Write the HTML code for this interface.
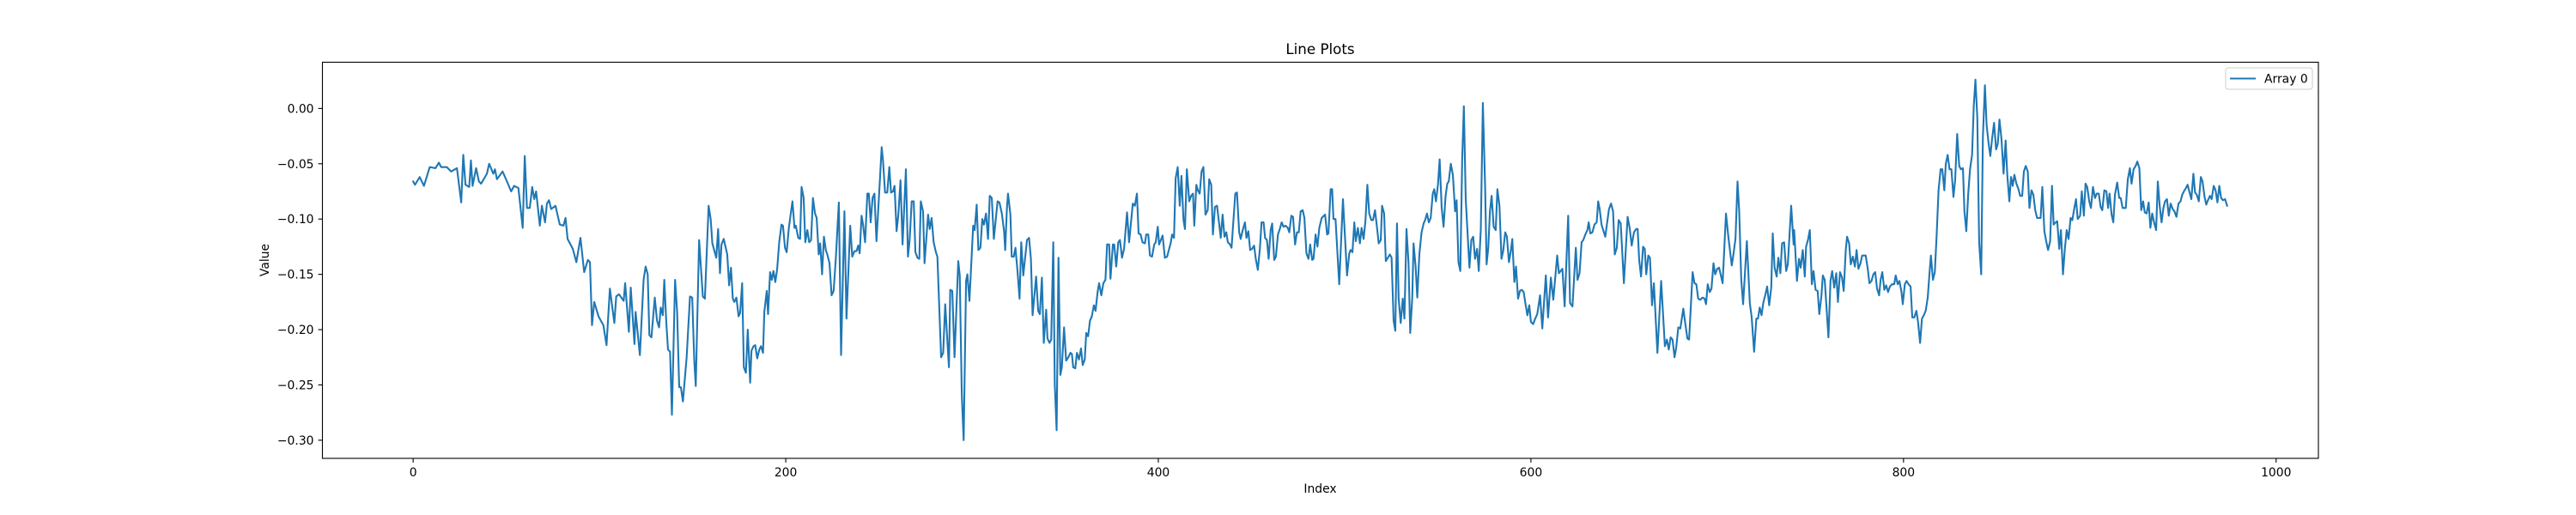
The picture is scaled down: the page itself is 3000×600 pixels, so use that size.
<!DOCTYPE html>
<html><head><meta charset="utf-8"><style>
html,body{margin:0;padding:0;background:#fff;}
svg{display:block;font-family:"DejaVu Sans","Liberation Sans",sans-serif;}
</style></head><body>
<svg id="chart" width="3000" height="600" viewBox="0 0 3000 600" xmlns="http://www.w3.org/2000/svg">
<rect x="0" y="0" width="3000" height="600" fill="#fff"/>
<text x="1537.5" y="63" font-size="16.7" text-anchor="middle" fill="#000">Line Plots</text>
<g id="ticks"></g>
<path id="series" fill="none" stroke="#1f77b4" stroke-width="2.1" stroke-linejoin="round" stroke-linecap="square"/>
<rect x="375.5" y="72.5" width="2324.5" height="461.5" fill="none" stroke="#000" stroke-width="1.1"/>
<text x="1537.5" y="574" font-size="13.9" text-anchor="middle" fill="#000">Index</text>
<text transform="translate(313,303) rotate(-90)" font-size="13.9" text-anchor="middle" fill="#000">Value</text>
<g>
<rect x="2592" y="79" width="101" height="25" rx="3" fill="#fff" fill-opacity="0.8" stroke="#ccc" stroke-width="1"/>
<line x1="2597" y1="91.5" x2="2627" y2="91.5" stroke="#1f77b4" stroke-width="2.1"/>
<text x="2637" y="96.5" font-size="13.9" fill="#000">Array 0</text>
</g>
</svg>
<script>
const xTicks = [0, 200, 400, 600, 800, 1000];
const yTicks = [0.00, -0.05, -0.10, -0.15, -0.20, -0.25, -0.30];
const yTickLabels = ["0.00", "\u22120.05", "\u22120.10", "\u22120.15", "\u22120.20", "\u22120.25", "\u22120.30"];
const indices = [
0,1,3.5,5.8,8.9,12,13.8,15,18,20.4,23.5,25.8,26.9,28.1,30.1,31,31.9,33.8,35.3,36.5,39.6,40.8,43,43.9,45,48,49.6,52.6,54.2,56.5,58.8,59.9,61.1,62.6,63.9,65,66,68,69.1,70.8,71.8,72.9,74.1,76.4,78.7,80.7,81.8,82.9,85.7,87.6,89.8,91.8,93.8,94.9,96,97.2,99.5,102.1,103.8,105.6,108,109,110.5,113,113.8,115.8,116.8,118.8,
119.4,121.7,123.7,124.8,125.9,126.8,127.9,129.7,130.9,132,132.9,134,134.8,135.9,136.8,137.9,138.9,140.6,141.7,142.8,143.7,144.8,146.8,148.6,149.8,150.9,151.7,153.5,155.5,156.6,158.6,159.7,160.6,162.7,163.7,164.7,165.5,166.7,168.6,169.6,170.6,171.6,172.4,173.5,174.7,175.5,176.6,177.5,178.6,179.6,180.9,181.6,182.7,183.6,184.7,185.8,186.7,187.8,188.5,189.8,190.5,191.6,192.5,193.4,194.4,195.4,196.5,197.7,198.5,199.6,200.5,201.6,202.7,203.6,204.7,205.4,206.7,207.7,208.5,209.6,210.5,211.6,212.6,213.6,214.6,215.7,216.6,217.7,218.5,219.5,220.5,221.5,222.3,223.5,224.6,225.7,226.9,228.5,229.7,231.5,232.6,234.6,235.7,236.9,238,238.9,239.7,240.7,241.5,242.6,
243.8,244.6,245.6,246.6,247.6,248.7,250.2,251.5,252.2,253.3,254.5,255.6,256.5,257.6,258.4,259.5,260.4,261.6,262.7,264.5,265.6,266.5,267.6,268.7,269.6,270.7,271.7,272.5,273.7,274.5,276.4,277.3,278.3,279.4,280.6,281.4,283.4,284.5,285.6,286.5,287.6,288.3,289.4,290.6,292.6,293.4,294.5,295.5,296.8,297.5,298.6,300.6,301.4,302.5,303.4,304.5,305.5,306.4,307.5,308.6,309.5,310.6,311.7,313.7,314.7,316,317.2,317.8,318.7,319.3,320.6,321.3,322.4,323.3,324.4,325.5,326.4,327.5,329.5,330.6,331.6,332.5,334.4,335.5,336.4,337.5,338.5,339.8,340.5,341.6,342.5,343.6,344.4,345.4,346.4,347.4,348.2,349.4,350.5,351.7,352.8,353.6,354.3,355.4,356.3,357.4,358.5,359.4,360.5,361.3,362.3,363.3,364.3,365.4,366.3,367.4,
368.2,369.4,370.5,371.6,372.5,373.6,374.3,375.6,376.3,377.4,378.5,379.4,380.5,381.6,383.2,384.3,386.3,387.4,388.5,389.4,390.5,391.5,392.8,393.5,394.6,395.5,396.6,397.8,398.6,399.7,400.4,402.3,403.5,404.7,406.6,407.4,408.4,409.3,410.4,411.5,412.4,413.5,414.3,415.3,416.6,417.6,418.6,419.3,420.4,421.2,422.2,423.2,424.2,425.3,426.5,427.3,428.4,429.3,430.4,431.5,432.7,433.5,434.5,435.5,436.5,437.3,438.5,439.3,440.4,441.3,442.2,443.4,444.2,445.3,446.5,447.3,448.3,449.3,450.3,451.4,452.3,453.4,454.5,455.4,456.5,457.3,458.3,459.2,460.3,461.1,462.2,463.1,464.2,465.2,466.2,467.2,468.3,469.5,470.3,471.4,472.3,473.4,474.4,475.4,476.4,477.5,478.4,479.5,480.6,481.5,482.6,483.3,484.4,485.4,486.4,487.7,489.5,490.6,491.3,
492.5,493.3,494,495.1,497.1,499.1,501.3,502.5,503.2,504.2,505.2,506,507.1,508.2,509.1,510.2,511.2,512.2,513.2,514.3,515.2,516.3,517.4,518.3,519.4,520.1,521.2,522.1,524.3,525.2,526.3,527.2,528.1,529,530.1,531.2,532.1,533.2,534.3,535.2,536.3,537,538.1,539,540.1,541.3,542.4,543.2,544.2,545.2,546.2,547.3,548.1,549,550.1,551,552.1,553.1,554.2,555.1,555.9,557,558.1,559.3,560.1,561.1,562.1,563.1,564,565,567,568,569,570,571.1,572,573.1,574.2,575.4,576.2,577.1,578,578.9,580,581.1,582,583.1,584.2,585.1,586.2,587.1,588.2,589.2,590,591.1,592,593.1,594.1,595.1,596.1,597.2,598.1,599.1,600,601.2,602.3,603.4,604.9,606.1,608,609.2,610.7,612,614.1,615,
616.9,618.1,620,621,622.3,624.1,625,626.1,627.2,628.1,629.2,630.3,631,631.9,633,634.1,635.3,636.1,636.9,637.9,639.9,641.9,643,644.1,645,646.1,647.1,648.2,649.9,651.9,653,654.1,655.3,656.5,657.3,658.1,659.1,660.2,661.1,661.9,663,663.9,665,666,667.9,669.9,671.9,673,674,675,676,677.1,678,679.1,680.2,681.8,682.9,684,684.9,686.8,687.8,688.8,689.8,690.9,692.1,693.2,694,694.9,696,696.9,698,698.9,700,701,702.1,702.9,704.7,705.9,707.8,708.7,709.8,710.9,711.8,712.9,713.9,715.9,717.5,718.5,719.8,721,721.9,722.8,723.8,724.7,725.9,726.8,727.9,729,729.8,730.8,731.9,732.8,733.9,734.8,735.9,737,737.9,739.7,741,
741.3,742.8,743.9,744.8,745.9,747,747.7,748.7,749.7,750.8,751.7,752.8,753.9,754.8,755.9,756.7,757.7,758.7,759.7,760.8,761.7,762.8,763.9,764.8,765.9,767,767.9,769,769.7,770.8,771.7,772.8,773.9,774.8,775.8,776.9,777.8,779.7,780.8,781.7,782.8,783.8,784.8,785.8,786.9,787.7,788.6,789.7,790.7,791.7,792.7,793.8,795,795.8,796.9,797.8,798.9,799.6,800.7,801.6,802.7,803.8,804.7,805.8,806.9,807.8,808.9,809.9,810.9,811.9,813,813.9,814.7,815.8,816.8,817.8,818.8,819.9,820.8,821.9,822.7,823.7,824.7,825.7,826.8,827.7,828.8,829.9,830.8,831.9,832.7,833.7,834.7,835.7,836.8,837.7,838.6,839.6,840.6,841.7,842.6,843.7,844.6,845.7,846.6,847.5,848.6,849.7,850.6,851.5,852.6,853.7,854.8,855.7,856.8,857.7,858.6,859.5,860.6,861.7,862.6,863.7,864.6,
865.6,866.7,867.6,868.7,869.7,870.7,871.7,873.6,874.5,875.6,876.7,877.6,878.7,879.7,880.6,881.7,882.5,883.6,884.5,885.6,886.6,887.6,888.6,889.7,890.6,891.7,892.6,893.5,894.8,895.7,896.8,897.7,898.6,899.7,900.6,901.7,902.8,903.7,904.8,905.8,906.7,907.8,908.9,909.8,910.6,911.7,912.6,913.5,914.7,915.8,916.6,917.6,918.6,919.3,920.4,921.5,922.4,923.5,924.6,925.5,926.6,927.6,928.6,929.5,930.5,931.6,932.5,933.5,934.5,935.6,936.5,937.5,938.5,939.5,940.4,941.4,942.4,943.4,944.5,945.4,946.5,947.6,948.7,949.6,950.5,951.6,952.5,953.4,954.5,955.6,956.5,957.4,958.5,959.6,960.5,961.6,962.5,963.4,964.5,965.4,966.5,967.5,968.5,969.5,970.5,971.5,972.6,973.7
];
const values = [
-0.066,-0.069,-0.062,-0.070,-0.053,-0.054,-0.049,-0.053,-0.053,-0.057,-0.054,-0.085,-0.042,-0.069,-0.071,-0.047,-0.070,-0.054,-0.066,-0.068,-0.059,-0.050,-0.059,-0.055,-0.064,-0.057,-0.063,-0.075,-0.070,-0.072,-0.108,-0.043,-0.090,-0.090,-0.071,-0.082,-0.075,-0.106,-0.088,-0.103,-0.086,-0.083,-0.091,-0.088,-0.105,-0.106,-0.099,-0.118,-0.127,-0.139,-0.117,-0.148,-0.137,-0.139,-0.196,-0.175,-0.188,-0.196,-0.214,-0.163,-0.194,-0.170,-0.168,-0.174,-0.158,-0.202,-0.162,-0.213,
-0.184,-0.223,-0.155,-0.143,-0.150,-0.205,-0.207,-0.171,-0.192,-0.198,-0.180,-0.187,-0.155,-0.194,-0.218,-0.220,-0.277,-0.155,-0.184,-0.252,-0.252,-0.265,-0.225,-0.170,-0.171,-0.228,-0.251,-0.119,-0.170,-0.172,-0.088,-0.100,-0.122,-0.135,-0.109,-0.149,-0.123,-0.118,-0.132,-0.160,-0.144,-0.172,-0.175,-0.171,-0.188,-0.185,-0.158,-0.234,-0.239,-0.200,-0.248,-0.219,-0.215,-0.214,-0.226,-0.218,-0.215,-0.221,-0.184,-0.165,-0.186,-0.148,-0.155,-0.147,-0.157,-0.145,-0.121,-0.105,-0.106,-0.126,-0.130,-0.109,-0.095,-0.084,-0.108,-0.106,-0.117,-0.118,-0.071,-0.081,-0.121,-0.110,-0.121,-0.119,-0.081,-0.095,-0.099,-0.132,-0.122,-0.150,-0.116,-0.128,-0.132,-0.140,-0.169,-0.165,-0.135,-0.085,-0.223,-0.093,-0.190,-0.106,-0.134,-0.129,-0.129,-0.124,-0.131,-0.097,-0.105,-0.121,
-0.077,-0.077,-0.103,-0.081,-0.077,-0.120,-0.075,-0.035,-0.047,-0.076,-0.076,-0.053,-0.076,-0.075,-0.070,-0.111,-0.097,-0.065,-0.123,-0.055,-0.134,-0.119,-0.084,-0.084,-0.130,-0.135,-0.136,-0.084,-0.093,-0.140,-0.096,-0.109,-0.099,-0.121,-0.130,-0.134,-0.225,-0.221,-0.177,-0.203,-0.234,-0.164,-0.165,-0.225,-0.138,-0.151,-0.259,-0.300,-0.156,-0.150,-0.174,-0.106,-0.110,-0.087,-0.128,-0.126,-0.100,-0.105,-0.095,-0.118,-0.079,-0.081,-0.118,-0.084,-0.085,-0.095,-0.111,-0.128,-0.091,-0.077,-0.096,-0.134,-0.134,-0.126,-0.147,-0.172,-0.121,-0.151,-0.119,-0.117,-0.136,-0.187,-0.152,-0.183,-0.186,-0.153,-0.212,-0.182,-0.208,-0.212,-0.209,-0.121,-0.249,-0.291,-0.135,-0.241,-0.234,-0.198,-0.228,-0.225,-0.221,-0.222,-0.234,-0.235,-0.221,-0.227,-0.217,-0.232,-0.227,-0.203,-0.206,-0.192,-0.188,-0.178,-0.183,-0.166,
-0.158,-0.169,-0.158,-0.155,-0.123,-0.123,-0.154,-0.123,-0.123,-0.143,-0.121,-0.119,-0.135,-0.127,-0.094,-0.121,-0.086,-0.088,-0.077,-0.113,-0.114,-0.121,-0.122,-0.114,-0.114,-0.133,-0.134,-0.123,-0.121,-0.107,-0.123,-0.115,-0.135,-0.134,-0.122,-0.114,-0.117,-0.063,-0.053,-0.088,-0.061,-0.101,-0.109,-0.055,-0.084,-0.079,-0.077,-0.106,-0.069,-0.074,-0.077,-0.057,-0.053,-0.096,-0.092,-0.064,-0.069,-0.114,-0.089,-0.088,-0.105,-0.117,-0.096,-0.116,-0.112,-0.121,-0.123,-0.126,-0.099,-0.077,-0.076,-0.112,-0.118,-0.110,-0.103,-0.117,-0.111,-0.128,-0.127,-0.124,-0.136,-0.146,-0.127,-0.103,-0.103,-0.117,-0.119,-0.136,-0.110,-0.104,-0.137,-0.134,-0.114,-0.109,-0.103,-0.107,-0.106,-0.108,-0.112,-0.097,-0.098,-0.123,-0.112,-0.112,-0.093,-0.092,-0.099,-0.131,-0.136,-0.123,-0.137,-0.136,-0.114,-0.125,-0.108,-0.099,-0.096,-0.114,-0.113,
-0.073,-0.073,-0.100,-0.100,-0.159,-0.082,-0.151,-0.131,-0.128,-0.130,-0.103,-0.120,-0.108,-0.122,-0.108,-0.118,-0.101,-0.069,-0.095,-0.101,-0.101,-0.092,-0.108,-0.122,-0.119,-0.088,-0.095,-0.138,-0.132,-0.135,-0.192,-0.201,-0.104,-0.172,-0.194,-0.172,-0.190,-0.109,-0.140,-0.203,-0.171,-0.122,-0.143,-0.171,-0.132,-0.112,-0.104,-0.101,-0.095,-0.103,-0.099,-0.077,-0.073,-0.084,-0.069,-0.046,-0.090,-0.107,-0.079,-0.068,-0.066,-0.050,-0.060,-0.093,-0.083,-0.139,-0.147,-0.046,0.002,-0.082,-0.144,-0.119,-0.116,-0.136,-0.127,-0.147,-0.109,0.005,-0.070,-0.141,-0.126,-0.093,-0.079,-0.107,-0.110,-0.073,-0.088,-0.136,-0.129,-0.112,-0.116,-0.139,-0.129,-0.118,-0.157,-0.143,-0.172,-0.165,-0.164,-0.166,-0.178,-0.187,-0.178,-0.193,-0.195,-0.190,-0.186,-0.169,-0.199,-0.151,-0.189,-0.153,-0.173,-0.133,-0.149,
-0.145,-0.179,-0.097,-0.176,-0.179,-0.126,-0.155,-0.149,-0.121,-0.119,-0.114,-0.110,-0.103,-0.113,-0.112,-0.105,-0.103,-0.084,-0.091,-0.105,-0.116,-0.091,-0.086,-0.093,-0.132,-0.126,-0.101,-0.104,-0.158,-0.098,-0.108,-0.124,-0.112,-0.109,-0.109,-0.137,-0.152,-0.125,-0.127,-0.150,-0.133,-0.135,-0.178,-0.158,-0.221,-0.156,-0.215,-0.209,-0.218,-0.207,-0.209,-0.225,-0.216,-0.198,-0.199,-0.181,-0.195,-0.208,-0.209,-0.148,-0.158,-0.159,-0.172,-0.173,-0.171,-0.172,-0.177,-0.159,-0.166,-0.163,-0.140,-0.150,-0.145,-0.144,-0.152,-0.158,-0.095,-0.115,-0.142,-0.132,-0.118,-0.066,-0.093,-0.155,-0.177,-0.120,-0.176,-0.189,-0.220,-0.190,-0.190,-0.180,-0.187,-0.176,-0.168,-0.161,-0.178,-0.162,-0.113,-0.144,-0.152,-0.135,-0.149,-0.122,-0.121,-0.147,-0.141,-0.088,-0.123,
-0.110,-0.156,-0.136,-0.144,-0.128,-0.152,-0.125,-0.119,-0.110,-0.159,-0.147,-0.164,-0.165,-0.186,-0.170,-0.151,-0.155,-0.181,-0.207,-0.156,-0.147,-0.162,-0.149,-0.175,-0.148,-0.153,-0.165,-0.128,-0.116,-0.122,-0.141,-0.134,-0.143,-0.128,-0.145,-0.140,-0.133,-0.133,-0.145,-0.158,-0.156,-0.150,-0.148,-0.163,-0.169,-0.155,-0.148,-0.164,-0.160,-0.166,-0.161,-0.159,-0.159,-0.151,-0.159,-0.156,-0.166,-0.177,-0.159,-0.156,-0.159,-0.161,-0.189,-0.189,-0.183,-0.193,-0.212,-0.190,-0.187,-0.183,-0.171,-0.150,-0.133,-0.155,-0.148,-0.114,-0.074,-0.055,-0.055,-0.074,-0.050,-0.042,-0.055,-0.055,-0.080,-0.065,-0.023,-0.052,-0.055,-0.054,-0.093,-0.111,-0.078,-0.055,-0.042,0.002,0.026,-0.008,-0.121,-0.150,-0.026,0.021,-0.015,-0.032,-0.043,-0.028,-0.013,-0.037,-0.032,-0.010,-0.028,-0.059,-0.029,-0.060,-0.084,-0.062,-0.070,-0.060,-0.068,-0.073,-0.079,-0.079,-0.057,
-0.052,-0.057,-0.090,-0.074,-0.078,-0.092,-0.099,-0.099,-0.071,-0.111,-0.121,-0.128,-0.120,-0.070,-0.105,-0.103,-0.102,-0.127,-0.110,-0.150,-0.127,-0.110,-0.118,-0.099,-0.101,-0.090,-0.082,-0.100,-0.097,-0.075,-0.097,-0.068,-0.071,-0.084,-0.090,-0.071,-0.081,-0.077,-0.077,-0.089,-0.092,-0.074,-0.075,-0.090,-0.077,-0.096,-0.103,-0.078,-0.067,-0.081,-0.081,-0.090,-0.090,-0.090,-0.064,-0.054,-0.068,-0.055,-0.052,-0.048,-0.054,-0.092,-0.084,-0.094,-0.095,-0.085,-0.108,-0.095,-0.103,-0.110,-0.066,-0.088,-0.103,-0.090,-0.084,-0.082,-0.097,-0.086,-0.091,-0.093,-0.098,-0.086,-0.084,-0.078,-0.075,-0.072,-0.069,-0.075,-0.082,-0.059,-0.076,-0.078,-0.084,-0.062,-0.066,-0.080,-0.087,-0.083,-0.079,-0.082,-0.070,-0.074,-0.085,-0.070,-0.081,-0.083,-0.082,-0.088
];

const PLOT = {left: 375.5, right: 2700, top: 72.5, bottom: 534};
const X_MIN = -48.7, X_MAX = 1022.7, Y_MIN = -0.3164, Y_MAX = 0.0418;
function xScale(v){ return PLOT.left + (v - X_MIN) / (X_MAX - X_MIN) * (PLOT.right - PLOT.left); }
function yScale(v){ return PLOT.bottom - (v - Y_MIN) / (Y_MAX - Y_MIN) * (PLOT.bottom - PLOT.top); }

const NS = "http://www.w3.org/2000/svg";
const ticksG = document.getElementById('ticks');
xTicks.forEach(function(t){
  const x = xScale(t);
  const ln = document.createElementNS(NS, 'line');
  ln.setAttribute('x1', x); ln.setAttribute('x2', x);
  ln.setAttribute('y1', PLOT.bottom); ln.setAttribute('y2', PLOT.bottom + 4.9);
  ln.setAttribute('stroke', '#000'); ln.setAttribute('stroke-width', '1.1');
  
  
  ticksG.appendChild(ln);
  const tx = document.createElementNS(NS, 'text');
  tx.setAttribute('x', x); tx.setAttribute('y', PLOT.bottom + 21);
  tx.setAttribute('font-size', '13.9'); tx.setAttribute('text-anchor', 'middle');
  tx.textContent = String(t);
  
  
  ticksG.appendChild(tx);
});
yTicks.forEach(function(t, i){
  const y = yScale(t);
  const ln = document.createElementNS(NS, 'line');
  ln.setAttribute('x1', PLOT.left - 4.9); ln.setAttribute('x2', PLOT.left);
  ln.setAttribute('y1', y); ln.setAttribute('y2', y);
  ln.setAttribute('stroke', '#000'); ln.setAttribute('stroke-width', '1.1');
  
  
  ticksG.appendChild(ln);
  const tx = document.createElementNS(NS, 'text');
  tx.setAttribute('x', PLOT.left - 10); tx.setAttribute('y', y + 5);
  tx.setAttribute('font-size', '13.9'); tx.setAttribute('text-anchor', 'end');
  tx.textContent = yTickLabels[i];
  
  
  ticksG.appendChild(tx);
});
let d = '';
for (let i = 0; i < values.length; i++) {
  d += (i ? 'L' : 'M') + xScale(indices[i]).toFixed(2) + ',' + yScale(values[i]).toFixed(2);
}
document.getElementById('series').setAttribute('d', d);
</script>
</body></html>
